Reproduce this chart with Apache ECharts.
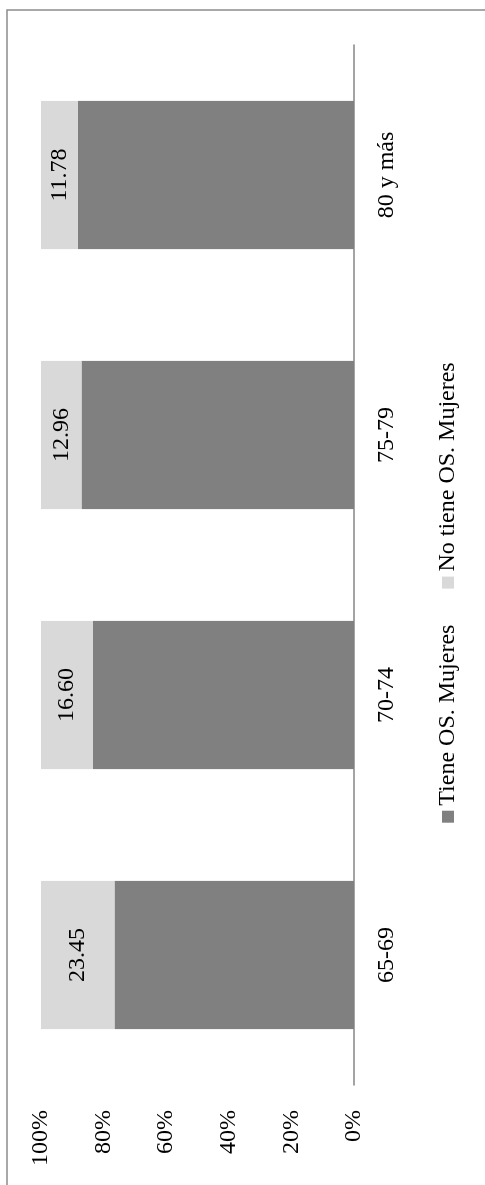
<!DOCTYPE html>
<html>
<head>
<meta charset="utf-8">
<script src="https://cdn.jsdelivr.net/npm/echarts@6/dist/echarts.min.js"></script>
<style>
html,body{margin:0;padding:0;overflow:hidden;background:#fff;width:485px;height:1185px;}
#chart{position:absolute;left:0;top:1185px;width:1185px;height:485px;transform-origin:0 0;transform:rotate(-90deg);}
</style>
</head>
<body>
<div id="chart"></div>
<script>
const categories = ['65-69', '70-74', '75-79', '80 y más'];
const tieneOS = [76.55, 83.40, 87.04, 88.22];
const noTieneOS = [23.45, 16.60, 12.96, 11.78];
const seriesNames = ['Tiene OS. Mujeres', 'No tiene OS. Mujeres'];
const valueTicks = [0, 20, 40, 60, 80, 100];

const FONT = 'Liberation Serif';
const chart = echarts.init(document.getElementById('chart'), null, {renderer: 'canvas'});
chart.setOption({
  animation: false,
  backgroundColor: '#fff',
  textStyle: {fontFamily: FONT},
  graphic: [{
    type: 'rect',
    shape: {x: -20, y: 7, width: 1195, height: 520},
    style: {fill: 'none', stroke: '#8c8c8c', lineWidth: 1.5},
    silent: true
  }],
  grid: {left: 100, right: 45, top: 41, bottom: 131, containLabel: false},
  legend: {
    data: seriesNames,
    left: 'center',
    top: 431,
    itemWidth: 12,
    itemHeight: 12,
    itemGap: 36,
    icon: 'rect',
    textStyle: {fontFamily: FONT, fontSize: 24, color: '#000'}
  },
  xAxis: {
    type: 'category',
    data: categories,
    axisLine: {show: true, lineStyle: {color: '#868686', width: 1.5}},
    axisTick: {show: false},
    axisLabel: {color: '#000', fontFamily: FONT, fontSize: 24, margin: 21}
  },
  yAxis: {
    type: 'value',
    min: valueTicks[0],
    max: valueTicks[valueTicks.length - 1],
    interval: 20,
    axisLine: {show: false},
    axisTick: {show: false},
    splitLine: {show: false},
    axisLabel: {color: '#000', fontFamily: FONT, fontSize: 24, margin: 25, formatter: '{value}%'}
  },
  series: [
    {
      name: seriesNames[0],
      type: 'bar',
      stack: 'total',
      data: tieneOS,
      barCategoryGap: '43%',
      itemStyle: {color: '#808080'}
    },
    {
      name: seriesNames[1],
      type: 'bar',
      stack: 'total',
      data: noTieneOS,
      barCategoryGap: '43%',
      itemStyle: {color: '#d9d9d9'},
      label: {
        show: true,
        position: 'inside',
        color: '#000',
        fontFamily: FONT,
        fontSize: 24,
        formatter: p => p.value.toFixed(2)
      }
    }
  ]
});
</script>
</body>
</html>
